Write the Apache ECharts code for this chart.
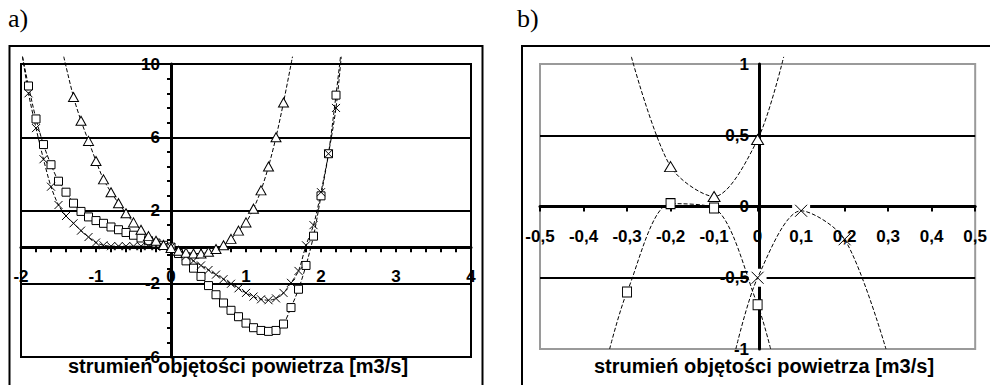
<!DOCTYPE html>
<html><head><meta charset="utf-8">
<script src="https://cdn.jsdelivr.net/npm/echarts@6/dist/echarts.min.js"></script>
<style>html,body{margin:0;padding:0;background:#fff}#c{width:990px;height:385px}</style>
</head><body><div id="c"></div>
<script>
// ---------- Panel a) data (first/last entries = where the drawn curve leaves the chart) ----------
const aSquareX = [-1.98,-1.9,-1.8,-1.7,-1.6,-1.5,-1.4,-1.3,-1.2,-1.1,-1.0,-0.9,-0.8,-0.7,-0.6,-0.5,-0.4,-0.3,-0.2,-0.1,0,0.1,0.2,0.3,0.4,0.5,0.6,0.7,0.8,0.9,1.0,1.1,1.2,1.3,1.4,1.5,1.6,1.7,1.8,1.9,2.0,2.1,2.2,2.26];
const aSquareY = [10.4,8.8,7.0,5.6,4.5,3.6,3.0,2.4,1.95,1.65,1.45,1.3,1.1,0.95,0.8,0.65,0.5,0.35,0.22,0.1,0,-0.35,-0.75,-1.15,-1.6,-2.1,-2.6,-3.05,-3.45,-3.8,-4.15,-4.4,-4.55,-4.6,-4.55,-4.2,-3.3,-2.3,-1.0,0.6,2.8,5.1,8.3,10.4];
const aCrossX = [-1.98,-1.9,-1.8,-1.7,-1.6,-1.5,-1.4,-1.3,-1.2,-1.1,-1.0,-0.9,-0.8,-0.7,-0.6,-0.5,-0.4,-0.3,-0.2,-0.1,0,0.1,0.2,0.3,0.4,0.5,0.6,0.7,0.8,0.9,1.0,1.1,1.2,1.3,1.4,1.5,1.6,1.7,1.8,1.9,2.0,2.1,2.2,2.27];
const aCrossY = [10.4,8.4,6.5,4.8,3.3,2.3,1.7,1.3,0.9,0.55,0.25,0.1,0.05,0.05,0.05,0.05,0.05,0.05,0.05,0.02,0,-0.25,-0.5,-0.75,-1.0,-1.25,-1.5,-1.75,-2.0,-2.25,-2.5,-2.7,-2.85,-2.9,-2.8,-2.5,-1.95,-1.3,0.1,1.2,3.0,5.1,7.6,10.4];
const aTriangleX = [-1.43,-1.3,-1.2,-1.1,-1.0,-0.9,-0.8,-0.7,-0.6,-0.5,-0.4,-0.3,-0.2,-0.1,0,0.1,0.2,0.3,0.4,0.5,0.6,0.7,0.8,0.9,1.0,1.1,1.2,1.3,1.4,1.5,1.62];
const aTriangleY = [10.4,8.2,6.9,5.8,4.7,3.7,3.0,2.4,1.85,1.35,0.95,0.6,0.35,0.12,-0.05,-0.2,-0.3,-0.35,-0.35,-0.25,-0.1,0.1,0.45,0.9,1.35,2.1,3.1,4.4,6.0,7.9,10.4];

// ---------- Panel b) data ----------
const bTriangleX = [-0.29,-0.2,-0.1,0,0.06];
const bTriangleY = [1.05,0.28,0.07,0.47,1.05];
const bSquareX = [-0.34,-0.3,-0.2,-0.1,0,0.03];
const bSquareY = [-1.0,-0.6,0.02,-0.01,-0.69,-1.0];
const bCrossX = [-0.05,0,0.1,0.2,0.295];
const bCrossY = [-1.0,-0.5,-0.03,-0.23,-1.0];

// ---------- axis ranges / texts ----------
const aXTicks = {min:-2, max:4, step:1};
const aYTicks = {min:-6, max:10, step:4};
const bXTicks = {min:-0.5, max:0.5, step:0.1};
const bYTicks = {min:-1, max:1, step:0.5};
const axisTitle = 'strumień objętości powietrza [m3/s]';
const panelLabels = ['a)', 'b)'];

const FONT = 'Liberation Sans, Arial, sans-serif';
const comma = v => { const r = Math.round(v*10)/10; return String(r).replace('.', ','); };

const G = [
  {left: 21, top: 64, width: 450, height: 293},
  {left: 540, top: 64, width: 438, height: 285}
];
// offsets that put each axis through the other axis' zero
const xOff = (g, t) => -g.height * (0 - t.min) / (t.max - t.min);
const yOff = (g, t) => -g.width * (0 - t.min) / (t.max - t.min);

function pts(xs, ys) {
  return xs.map((x, i) => {
    const it = {value: [x, ys[i]]};
    if (i === 0 || i === xs.length - 1) it.symbol = 'none';
    return it;
  });
}
const CROSS = 'path://M0,0L10,10M10,0L0,10';
function ser(g, xs, ys, symbol, size) {
  return {
    type: 'line', xAxisIndex: g, yAxisIndex: g, data: pts(xs, ys),
    smooth: 0.3, clip: false, symbol: symbol, symbolSize: size, showAllSymbol: true,
    lineStyle: {color: '#000', width: 1, type: [4, 2]},
    itemStyle: symbol === CROSS ? {color: 'rgba(0,0,0,0)', borderColor: '#000', borderWidth: 1}
                                : {color: '#fff', borderColor: '#000', borderWidth: 1},
    emphasis: {disabled: true}, z: 3
  };
}
// white background box behind cross markers that sit on a grid/axis line (panel b)
function crossBg(g, xs, ys, size, step) {
  const onLine = y => Math.abs(y / step - Math.round(y / step)) < 0.1;
  return {
    type: 'scatter', xAxisIndex: g, yAxisIndex: g, clip: false,
    data: xs.map((x, i) => [x, ys[i]]).filter((d, i) => i > 0 && i < xs.length - 1 && onLine(d[1])),
    symbol: 'rect', symbolSize: size, itemStyle: {color: '#fff', opacity: 1},
    emphasis: {disabled: true}, silent: true, z: 2
  };
}
const lbl = (margin, fmt) => ({margin, color: '#000', fontFamily: FONT, fontWeight: 'bold', fontSize: 17, formatter: fmt});

const chart = echarts.init(document.getElementById('c'), null, {renderer: 'svg'});
chart.setOption({
  animation: false,
  backgroundColor: '#fff',
  grid: [
    Object.assign({show: true, borderColor: '#000', borderWidth: 2, backgroundColor: 'transparent'}, G[0]),
    Object.assign({show: true, borderColor: '#9a9a9a', borderWidth: 2, backgroundColor: 'transparent'}, G[1])
  ],
  xAxis: [
    {gridIndex: 0, type: 'value', position: 'bottom', offset: xOff(G[0], aYTicks),
     min: aXTicks.min, max: aXTicks.max, interval: aXTicks.step,
     axisLine: {onZero: false, lineStyle: {color: '#000', width: 3}},
     axisTick: {show: true, length: 5, lineStyle: {color: '#000', width: 2}},
     minorTick: {show: true, splitNumber: 5, length: 5, lineStyle: {color: '#000', width: 2}},
     axisLabel: lbl(21), splitLine: {show: false}},
    {gridIndex: 1, type: 'value', position: 'bottom', offset: xOff(G[1], bYTicks),
     min: bXTicks.min, max: bXTicks.max, interval: bXTicks.step,
     axisLine: {onZero: false, lineStyle: {color: '#000', width: 3}},
     axisTick: {show: true, length: 5, lineStyle: {color: '#000', width: 2}},
     axisLabel: lbl(21, comma), splitLine: {show: false}}
  ],
  yAxis: [
    {gridIndex: 0, type: 'value', position: 'left', offset: yOff(G[0], aXTicks),
     min: aYTicks.min, max: aYTicks.max, interval: aYTicks.step,
     axisLine: {onZero: false, lineStyle: {color: '#000', width: 3}},
     axisTick: {show: true, length: 4, lineStyle: {color: '#000', width: 2}},
     minorTick: {show: true, splitNumber: 5, length: 4, lineStyle: {color: '#000', width: 2}},
     axisLabel: lbl(11),
     splitLine: {show: true, showMinLine: false, showMaxLine: false, lineStyle: {color: '#000', width: 2}}},
    {gridIndex: 1, type: 'value', position: 'left', offset: yOff(G[1], bXTicks),
     min: bYTicks.min, max: bYTicks.max, interval: bYTicks.step,
     axisLine: {onZero: false, lineStyle: {color: '#000', width: 3}},
     axisTick: {show: false},
     axisLabel: lbl(10, comma),
     splitLine: {show: true, showMinLine: false, showMaxLine: false, lineStyle: {color: '#000', width: 2}}}
  ],
  series: [
    ser(0, aSquareX, aSquareY, 'rect', [8, 8]),
    ser(0, aCrossX, aCrossY, CROSS, [8, 8]),
    ser(0, aTriangleX, aTriangleY, 'triangle', [10, 9]),
    crossBg(1, bCrossX, bCrossY, 18, bYTicks.step),
    ser(1, bSquareX, bSquareY, 'rect', [9, 10]),
    ser(1, bCrossX, bCrossY, CROSS, [12, 12]),
    ser(1, bTriangleX, bTriangleY, 'triangle', [12, 10])
  ],
  graphic: [
    {type: 'rect', shape: {x: 9.5, y: 46, width: 473, height: 400}, style: {fill: 'none', stroke: '#000', lineWidth: 2}, z: 0},
    {type: 'rect', shape: {x: 522, y: 46, width: 520, height: 400}, style: {fill: 'none', stroke: '#000', lineWidth: 2}, z: 0},
    {type: 'text', x: 8, y: 18, style: {text: panelLabels[0], fontFamily: 'Liberation Serif, Times New Roman, serif', fontSize: 26, fill: '#000', align: 'left', verticalAlign: 'middle'}},
    {type: 'text', x: 517, y: 18, style: {text: panelLabels[1], fontFamily: 'Liberation Serif, Times New Roman, serif', fontSize: 26, fill: '#000', align: 'left', verticalAlign: 'middle'}},
    {type: 'text', x: 238, y: 366, z: 10, style: {text: axisTitle, fontFamily: FONT, fontWeight: 'bold', fontSize: 20, fill: '#000', align: 'center', verticalAlign: 'middle'}},
    {type: 'text', x: 764, y: 366, z: 10, style: {text: axisTitle, fontFamily: FONT, fontWeight: 'bold', fontSize: 20, fill: '#000', align: 'center', verticalAlign: 'middle'}}
  ]
});
</script></body></html>
